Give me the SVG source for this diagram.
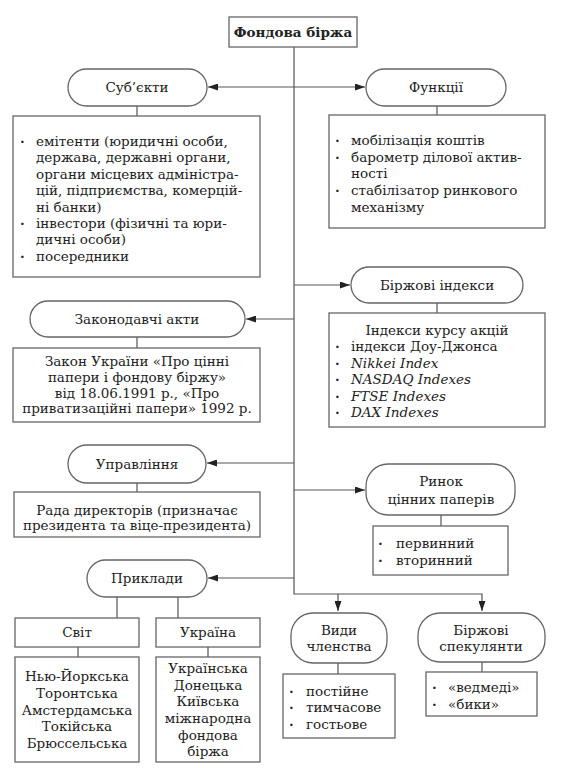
<svg xmlns="http://www.w3.org/2000/svg" width="563" height="768" viewBox="0 0 563 768">
<defs>
<marker id="ah" viewBox="0 0 10 7" refX="10" refY="3.5" markerWidth="10" markerHeight="7" markerUnits="userSpaceOnUse" orient="auto">
<path d="M0,0 L10,3.5 L0,7 z" fill="#222"/>
</marker>
<style>
.box{fill:#fff;stroke:#666;stroke-width:1.3}
.ln{fill:none;stroke:#555;stroke-width:1.2}
text{font-family:"DejaVu Serif","Liberation Serif",serif;font-size:13.5px;fill:#222}
.c{text-anchor:middle}
.b{font-weight:bold}
.i{font-style:italic}
.dot{font-weight:bold}
</style>
</defs>
<rect width="563" height="768" fill="#fff"/>

<g id="connectors">
<path class="ln" d="M294 47 V594 H482 V611" marker-end="url(#ah)"/>
<path class="ln" d="M338 594 V611" marker-end="url(#ah)"/>
<path class="ln" d="M294 87 H208" marker-end="url(#ah)"/>
<path class="ln" d="M294 87 H365" marker-end="url(#ah)"/>
<path class="ln" d="M294 285 H350" marker-end="url(#ah)"/>
<path class="ln" d="M294 319 H246" marker-end="url(#ah)"/>
<path class="ln" d="M294 463 H207" marker-end="url(#ah)"/>
<path class="ln" d="M294 490 H365" marker-end="url(#ah)"/>
<path class="ln" d="M294 578 H208" marker-end="url(#ah)"/>
<path class="ln" d="M137 106 V116 M437 106 V115 M437 303 V313 M137 337 V348 M137 483 V492 M117 597 V618 M178 597 V618 M78 647 V657 M208 647 V657 M441 515 V526 M338 663 V674 M482 662 V672"/>
</g>

<g id="root">
<rect class="box" x="229" y="17" width="128" height="30"/>
<text class="c b" x="293" y="37">Фондова біржа</text>
</g>

<g id="subjects">
<rect class="box" x="68" y="69" width="139" height="37" rx="18.5"/>
<text class="c" x="137" y="92">Суб’єкти</text>
</g>
<g id="subjects-list">
<rect class="box" x="13" y="116" width="247" height="161"/>
<text x="20" y="146" class="dot">·</text>
<text x="36" y="146">емітенти (юридичні особи,</text>
<text x="36" y="162">держава, державні органи,</text>
<text x="36" y="179">органи місцевих адміністра-</text>
<text x="36" y="195">цій, підприємства, комерцій-</text>
<text x="36" y="212">ні банки)</text>
<text x="20" y="228" class="dot">·</text>
<text x="36" y="228">інвестори (фізичні та юри-</text>
<text x="36" y="244">дичні особи)</text>
<text x="20" y="261" class="dot">·</text>
<text x="36" y="261">посередники</text>
</g>

<g id="functions">
<rect class="box" x="366" y="69" width="140" height="37" rx="18.5"/>
<text class="c" x="436" y="92">Функції</text>
</g>
<g id="functions-list">
<rect class="box" x="329" y="115" width="216" height="113"/>
<text x="335" y="145" class="dot">·</text>
<text x="351" y="145">мобілізація коштів</text>
<text x="335" y="162" class="dot">·</text>
<text x="351" y="162">барометр ділової актив-</text>
<text x="351" y="178">ності</text>
<text x="335" y="195" class="dot">·</text>
<text x="351" y="195">стабілізатор ринкового</text>
<text x="351" y="212">механізму</text>
</g>

<g id="indexes">
<rect class="box" x="351" y="267" width="172" height="36" rx="18"/>
<text class="c" x="437" y="290">Біржові індекси</text>
</g>
<g id="indexes-list">
<rect class="box" x="329" y="313" width="216" height="114"/>
<text class="c" x="437" y="335">Індекси курсу акцій</text>
<text x="335" y="351" class="dot">·</text>
<text x="351" y="351">індекси Доу-Джонса</text>
<text x="335" y="368" class="dot">·</text>
<text x="351" y="368" class="i">Nikkei Index</text>
<text x="335" y="384" class="dot">·</text>
<text x="351" y="384" class="i">NASDAQ Indexes</text>
<text x="335" y="401" class="dot">·</text>
<text x="351" y="401" class="i">FTSE Indexes</text>
<text x="335" y="417" class="dot">·</text>
<text x="351" y="417" class="i">DAX Indexes</text>
</g>

<g id="laws">
<rect class="box" x="30" y="301" width="215" height="36" rx="18"/>
<text class="c" x="137" y="324">Законодавчі акти</text>
</g>
<g id="laws-text">
<rect class="box" x="13" y="348" width="247" height="74"/>
<text class="c" x="137" y="366">Закон України «Про цінні</text>
<text class="c" x="137" y="382">папери і фондову біржу»</text>
<text class="c" x="137" y="398">від 18.06.1991 р., «Про</text>
<text class="c" x="137" y="413">приватизаційні папери» 1992 р.</text>
</g>

<g id="management">
<rect class="box" x="68" y="445" width="138" height="38" rx="19"/>
<text class="c" x="137" y="469">Управління</text>
</g>
<g id="management-text">
<rect class="box" x="14" y="492" width="246" height="45"/>
<text class="c" x="137" y="515">Рада директорів (призначає</text>
<text class="c" x="137" y="530">президента та віце-президента)</text>
</g>

<g id="market">
<rect class="box" x="366" y="464" width="149" height="51" rx="22"/>
<text class="c" x="441" y="486">Ринок</text>
<text class="c" x="441" y="504">цінних паперів</text>
</g>
<g id="market-list">
<rect class="box" x="373" y="526" width="135" height="49"/>
<text x="378" y="548" class="dot">·</text>
<text x="396" y="548">первинний</text>
<text x="378" y="565" class="dot">·</text>
<text x="396" y="565">вторинний</text>
</g>

<g id="examples">
<rect class="box" x="87" y="560" width="120" height="37" rx="18.5"/>
<text class="c" x="147" y="583">Приклади</text>
</g>
<g id="world">
<rect class="box" x="15" y="618" width="124" height="29"/>
<text class="c" x="77" y="637">Світ</text>
</g>
<g id="ukraine">
<rect class="box" x="156" y="618" width="104" height="29"/>
<text class="c" x="208" y="637">Україна</text>
</g>
<g id="world-list">
<rect class="box" x="15" y="657" width="124" height="105"/>
<text class="c" x="77" y="681">Нью-Йоркська</text>
<text class="c" x="77" y="698">Торонтська</text>
<text class="c" x="77" y="715">Амстердамська</text>
<text class="c" x="77" y="731">Токійська</text>
<text class="c" x="77" y="748">Брюссельська</text>
</g>
<g id="ukraine-list">
<rect class="box" x="156" y="657" width="104" height="105"/>
<text class="c" x="208" y="673">Українська</text>
<text class="c" x="208" y="690">Донецька</text>
<text class="c" x="208" y="706">Київська</text>
<text class="c" x="208" y="723">міжнародна</text>
<text class="c" x="208" y="740">фондова</text>
<text class="c" x="208" y="756">біржа</text>
</g>

<g id="membership">
<rect class="box" x="291" y="613" width="96" height="50" rx="22"/>
<text class="c" x="339" y="635">Види</text>
<text class="c" x="339" y="651">членства</text>
</g>
<g id="membership-list">
<rect class="box" x="283" y="674" width="112" height="64"/>
<text x="289" y="696" class="dot">·</text>
<text x="306" y="696">постійне</text>
<text x="289" y="712" class="dot">·</text>
<text x="306" y="712">тимчасове</text>
<text x="289" y="729" class="dot">·</text>
<text x="306" y="729">гостьове</text>
</g>

<g id="speculators">
<rect class="box" x="418" y="613" width="127" height="49" rx="22"/>
<text class="c" x="481" y="635">Біржові</text>
<text class="c" x="481" y="651">спекулянти</text>
</g>
<g id="speculators-list">
<rect class="box" x="426" y="672" width="111" height="44"/>
<text x="432" y="692" class="dot">·</text>
<text x="448" y="692">«ведмеді»</text>
<text x="432" y="709" class="dot">·</text>
<text x="448" y="709">«бики»</text>
</g>
</svg>
